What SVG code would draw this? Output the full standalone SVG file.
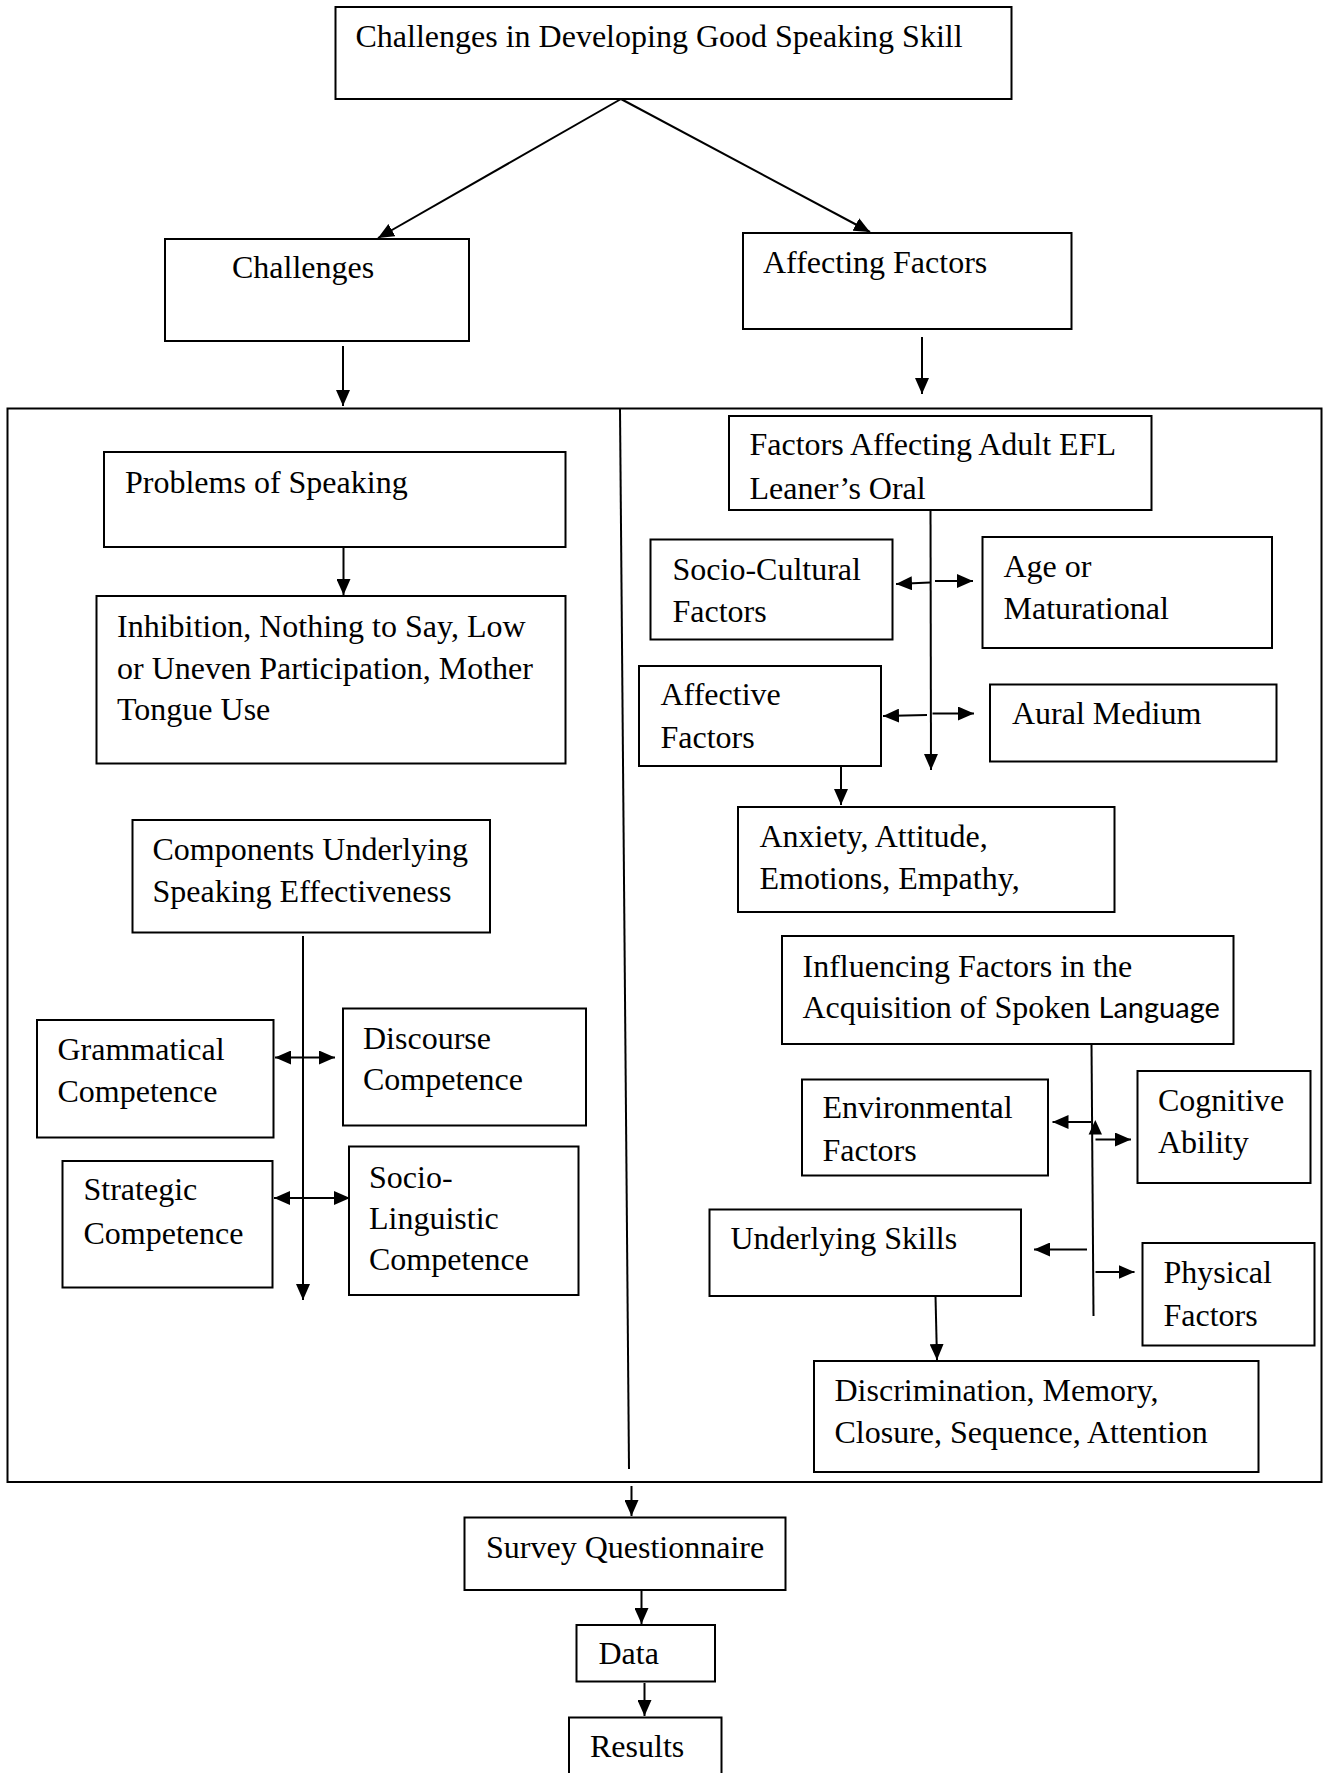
<svg xmlns="http://www.w3.org/2000/svg" width="1325" height="1773" viewBox="0 0 1325 1773">
<style>
.box{fill:#fff;stroke:#000;stroke-width:2}
.ln{fill:none;stroke:#000;stroke-width:2}
.t{font-family:"Liberation Serif","Times New Roman",serif;font-size:32px;fill:#000}
.s{font-family:Lato,"Open Sans",sans-serif;font-size:29px}
</style>
<defs>
<marker id="ah" markerUnits="userSpaceOnUse" viewBox="0 0 16 14" refX="16" refY="7" markerWidth="16" markerHeight="14" orient="auto">
<path d="M0,0 L16,7 L0,14 z" fill="#000"/>
</marker>
<marker id="ahs" markerUnits="userSpaceOnUse" viewBox="0 0 16 14" refX="16" refY="7" markerWidth="16" markerHeight="14" orient="auto-start-reverse">
<path d="M0,0 L16,7 L0,14 z" fill="#000"/>
</marker>
</defs>
<rect width="1325" height="1773" fill="#fff"/>

<g id="frame">
<rect class="ln" x="7.5" y="408.5" width="1314" height="1073.5"/>
<line class="ln" x1="620" y1="409" x2="629" y2="1469"/>
</g>

<g id="connectors">
<line class="ln" x1="621" y1="99" x2="378" y2="238" marker-end="url(#ah)"/>
<line class="ln" x1="621" y1="99" x2="870" y2="232" marker-end="url(#ah)"/>
<line class="ln" x1="343" y1="346" x2="343" y2="406" marker-end="url(#ah)"/>
<line class="ln" x1="922" y1="337" x2="922" y2="394" marker-end="url(#ah)"/>
<line class="ln" x1="343.5" y1="547" x2="343.5" y2="595" marker-end="url(#ah)"/>
<line class="ln" x1="303" y1="936" x2="303" y2="1300" marker-end="url(#ah)"/>
<line class="ln" x1="275" y1="1057.5" x2="335" y2="1057.5" marker-start="url(#ahs)" marker-end="url(#ah)"/>
<line class="ln" x1="274" y1="1198" x2="350" y2="1198" marker-start="url(#ahs)" marker-end="url(#ah)"/>
<line class="ln" x1="930.5" y1="507" x2="931" y2="770" marker-end="url(#ah)"/>
<line class="ln" x1="930" y1="582.5" x2="896" y2="584" marker-end="url(#ah)"/>
<line class="ln" x1="935" y1="581" x2="973" y2="581" marker-end="url(#ah)"/>
<line class="ln" x1="927" y1="715" x2="883" y2="716" marker-end="url(#ah)"/>
<line class="ln" x1="932.5" y1="713.5" x2="974" y2="713.5" marker-end="url(#ah)"/>
<line class="ln" x1="841" y1="766" x2="841" y2="805" marker-end="url(#ah)"/>
<line class="ln" x1="1091.5" y1="1044" x2="1093.5" y2="1316"/>
<polygon points="1095.3,1120 1102,1134.5 1088.6,1134.5" fill="#000"/>
<line class="ln" x1="1091" y1="1122" x2="1052.5" y2="1122" marker-end="url(#ah)"/>
<line class="ln" x1="1095.5" y1="1139.5" x2="1131" y2="1139.5" marker-end="url(#ah)"/>
<line class="ln" x1="1087" y1="1249.5" x2="1034" y2="1249.5" marker-end="url(#ah)"/>
<line class="ln" x1="1095.5" y1="1272" x2="1134.5" y2="1272" marker-end="url(#ah)"/>
<line class="ln" x1="935.5" y1="1296" x2="937" y2="1360" marker-end="url(#ah)"/>
<line class="ln" x1="631.5" y1="1486" x2="631.5" y2="1516" marker-end="url(#ah)"/>
<line class="ln" x1="641.5" y1="1588" x2="641.5" y2="1624" marker-end="url(#ah)"/>
<line class="ln" x1="644.5" y1="1683" x2="644.5" y2="1716" marker-end="url(#ah)"/>
</g>

<g id="n-title"><rect class="box" x="335.5" y="7" width="676" height="92"/><text class="t" x="355.5" y="47">Challenges in Developing Good Speaking Skill</text></g>
<g id="n-challenges"><rect class="box" x="165" y="239" width="304" height="102"/><text class="t" x="232" y="278">Challenges</text></g>
<g id="n-affecting"><rect class="box" x="743" y="233" width="328.5" height="96"/><text class="t" x="763" y="273">Affecting Factors</text></g>
<g id="n-problems"><rect class="box" x="104" y="452" width="461.5" height="95"/><text class="t" x="125" y="492.5">Problems of Speaking</text></g>
<g id="n-inhibition"><rect class="box" x="96.5" y="596" width="469" height="167.5"/><text class="t" x="117" y="636.5">Inhibition, Nothing to Say, Low<tspan x="117" y="678.5">or Uneven Participation, Mother</tspan><tspan x="117" y="720">Tongue Use</tspan></text></g>
<g id="n-components"><rect class="box" x="132.5" y="820" width="357.5" height="112.5"/><text class="t" x="152.5" y="860">Components Underlying<tspan x="152.5" y="901.5">Speaking Effectiveness</tspan></text></g>
<g id="n-grammatical"><rect class="box" x="37" y="1020" width="236.5" height="117.5"/><text class="t" x="57.5" y="1060">Grammatical<tspan x="57.5" y="1101.5">Competence</tspan></text></g>
<g id="n-discourse"><rect class="box" x="343" y="1008.5" width="243" height="117"/><text class="t" x="363" y="1048.5">Discourse<tspan x="363" y="1090">Competence</tspan></text></g>
<g id="n-strategic"><rect class="box" x="62.5" y="1161" width="210" height="126.5"/><text class="t" x="83.5" y="1200">Strategic<tspan x="83.5" y="1243.5">Competence</tspan></text></g>
<g id="n-sociolinguistic"><rect class="box" x="349" y="1146.5" width="229.5" height="148.5"/><text class="t" x="369" y="1187.5">Socio-<tspan x="369" y="1228.5">Linguistic</tspan><tspan x="369" y="1270">Competence</tspan></text></g>
<g id="n-factors-adult"><rect class="box" x="729" y="416" width="422.5" height="94"/><text class="t" x="749.5" y="455">Factors Affecting Adult EFL<tspan x="749.5" y="498.5">Leaner’s Oral</tspan></text></g>
<g id="n-sociocultural"><rect class="box" x="650.5" y="539.5" width="242" height="100"/><text class="t" x="672.5" y="580">Socio-Cultural<tspan x="672.5" y="621.5">Factors</tspan></text></g>
<g id="n-age"><rect class="box" x="982.5" y="537" width="289.5" height="111"/><text class="t" x="1003.5" y="576.5">Age or<tspan x="1003.5" y="618.5">Maturational</tspan></text></g>
<g id="n-affective"><rect class="box" x="639" y="666" width="242" height="100"/><text class="t" x="660.5" y="705">Affective<tspan x="660.5" y="747.5">Factors</tspan></text></g>
<g id="n-aural"><rect class="box" x="990" y="684.5" width="286.5" height="77"/><text class="t" x="1012" y="723.5">Aural Medium</text></g>
<g id="n-anxiety"><rect class="box" x="738" y="807" width="376.5" height="105"/><text class="t" x="759.5" y="846.5">Anxiety, Attitude,<tspan x="759.5" y="888.5">Emotions, Empathy,</tspan></text></g>
<g id="n-influencing"><rect class="box" x="782" y="936" width="451.5" height="108"/><text class="t" x="802.5" y="977">Influencing Factors in the<tspan x="802.5" y="1018">Acquisition of Spoken </tspan><tspan class="s">Language</tspan></text></g>
<g id="n-environmental"><rect class="box" x="802" y="1079.5" width="246" height="96"/><text class="t" x="822.5" y="1118">Environmental<tspan x="822.5" y="1161">Factors</tspan></text></g>
<g id="n-cognitive"><rect class="box" x="1137.5" y="1071" width="173" height="112"/><text class="t" x="1158" y="1111">Cognitive<tspan x="1158" y="1153">Ability</tspan></text></g>
<g id="n-underlying"><rect class="box" x="709.5" y="1209.5" width="311.5" height="86.5"/><text class="t" x="730.5" y="1248.5">Underlying Skills</text></g>
<g id="n-physical"><rect class="box" x="1142.5" y="1243" width="172" height="102.5"/><text class="t" x="1163.5" y="1282.5">Physical<tspan x="1163.5" y="1325.5">Factors</tspan></text></g>
<g id="n-discrimination"><rect class="box" x="814" y="1361" width="444.5" height="111"/><text class="t" x="834.5" y="1400.5">Discrimination, Memory,<tspan x="834.5" y="1443">Closure, Sequence, Attention</tspan></text></g>
<g id="n-survey"><rect class="box" x="464.5" y="1517.5" width="321" height="72.5"/><text class="t" x="486" y="1558">Survey Questionnaire</text></g>
<g id="n-data"><rect class="box" x="576.5" y="1625" width="138.5" height="56.5"/><text class="t" x="598.5" y="1664">Data</text></g>
<g id="n-results"><rect class="box" x="569" y="1717.5" width="152.5" height="62"/><text class="t" x="590" y="1756.5">Results</text></g>
</svg>
